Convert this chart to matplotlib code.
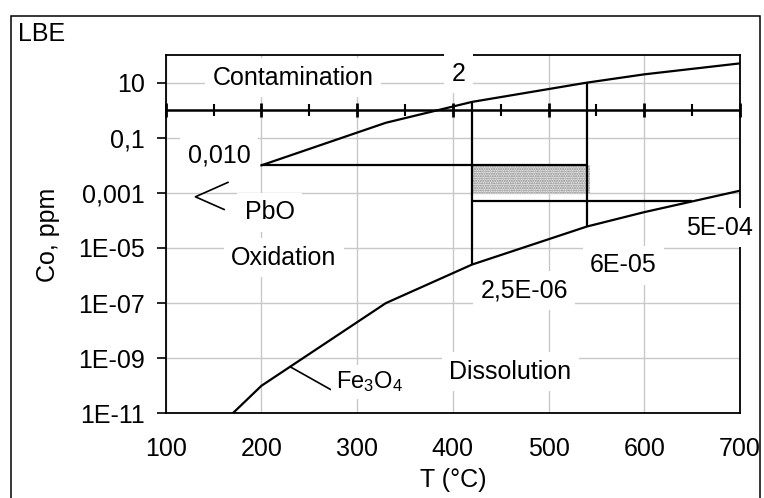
import numpy as np
import matplotlib.pyplot as plt
from matplotlib.patches import Rectangle
from matplotlib.ticker import NullLocator, FixedLocator, FixedFormatter

plt.rcParams['font.family'] = ['Liberation Sans', 'DejaVu Sans']
plt.rcParams['mathtext.fontset'] = 'custom'
plt.rcParams['mathtext.rm'] = 'Liberation Sans'
plt.rcParams['mathtext.it'] = 'Liberation Sans:italic'
plt.rcParams['hatch.linewidth'] = 1.0

# upper boundary (PbO formation)
pbo_t = [200, 330, 420, 540, 600, 700]
pbo_c = [1e-2, 0.35, 2.0, 10.0, 20.0, 50.0]

# lower boundary (Fe3O4 stability)
fe_t = [170, 200, 330, 420, 540, 600, 700]
fe_c = [1e-11, 1e-10, 1e-7, 2.5e-6, 6e-5, 2e-4, 1.2e-3]

# vertical limits at 420 and 540 °C
vert_t = [420, 540]
vert_top = [2.0, 10.0]
vert_bot = [2.5e-6, 6e-5]

# horizontal levels
hi_t = [200, 540]
hi_c = 1e-2
lo_t = [420, 650]
lo_c = 5e-4

# shaded operating window
box_t = [420, 543]
box_lo = 1e-3
box_hi = 1e-2

# label pointers
pbo_ptr_t = [165, 131, 161]
pbo_ptr_c = [2.4e-3, 7.2e-4, 2.5e-4]
fe_ptr_t = [230, 272]
fe_ptr_c = [4.9e-10, 7.4e-11]

x_ticks = [100, 200, 300, 400, 500, 600, 700]
x_minor = [150, 250, 350, 450, 550, 650]
y_ticks = [1e-11, 1e-9, 1e-7, 1e-5, 1e-3, 1e-1, 10]
y_labels = ['1E-11', '1E-09', '1E-07', '1E-05', '0,001', '0,1', '10']

# (text, T, Co)
labels = [
    ('Contamination', 233, 14.8),
    ('2', 405.7, 20.8),
    ('0,010', 155.7, 0.023),
    ('PbO', 208.5, 1.95e-4),
    ('Oxidation', 223.6, 4.4e-6),
    ('Dissolution', 459.8, 3.2e-10),
    ('2,5E-06', 474.4, 2.8e-7),
    ('6E-05', 578.4, 2.4e-6),
    ('5E-04', 678.8, 5.5e-5),
]

fig = plt.figure(figsize=(7.64, 4.98), dpi=100)
ax = fig.add_axes([0.2169, 0.170, 0.7517, 0.7194])
ax.set_yscale('log')
ax.set_xlim(100, 700)
ax.set_ylim(1e-11, 100)

ax.yaxis.set_major_locator(FixedLocator(y_ticks))
ax.yaxis.set_major_formatter(FixedFormatter(y_labels))
ax.yaxis.set_minor_locator(NullLocator())
ax.set_xticks(x_ticks)
ax.tick_params(axis='y', labelsize=18, length=6.5, width=1.2, pad=8.4, direction='out')
ax.tick_params(axis='x', labelsize=18, length=0, pad=17)
ax.grid(True, color='#c8c8c8', lw=1.0, zorder=0)
ax.set_axisbelow(True)
for s in ax.spines.values():
    s.set_linewidth(1.3)

box = ax.fill_between(box_t, box_lo, box_hi, facecolor='#e4e4e4', edgecolor='#8a8a8a',
                      hatch='.......', linewidth=0, zorder=1)

lw = 1.6
ax.plot(pbo_t, pbo_c, color='black', lw=lw, zorder=3)
ax.plot(fe_t, fe_c, color='black', lw=lw, zorder=3)
ax.vlines(vert_t, vert_bot, vert_top, color='black', lw=lw, zorder=3)
ax.hlines(hi_c, hi_t[0], hi_t[1], color='black', lw=lw, zorder=3)
ax.hlines(lo_c, lo_t[0], lo_t[1], color='black', lw=lw, zorder=3)
ax.plot(pbo_ptr_t, pbo_ptr_c, color='black', lw=1.2, zorder=3)
ax.plot(fe_ptr_t, fe_ptr_c, color='black', lw=1.2, zorder=3)

# category axis crossing at 1 ppm
ax.axhline(1, color='black', lw=1.8, zorder=3)
ax.plot(x_ticks, [1] * len(x_ticks), ls='none', marker='|', ms=10, mew=2,
        color='black', clip_on=False, zorder=3)
ax.plot(x_minor, [1] * len(x_minor), ls='none', marker='|', ms=8, mew=1.5,
        color='black', clip_on=False, zorder=3)

for txt, t, c in labels:
    ax.text(t, c, txt, fontsize=18, ha='center', va='center', zorder=6,
            bbox=dict(boxstyle='square,pad=0.3', fc='white', ec='none'))

ax.text(278, 1.4e-10, r'$\mathregular{Fe_3O_4}$', fontsize=17, ha='left', va='center',
        zorder=6, bbox=dict(boxstyle='square,pad=0.2', fc='white', ec='none'))

fig.text(48 / 764, 1 - 235 / 498, 'Co, ppm', rotation=90, fontsize=18,
         ha='center', va='center')
fig.text(453 / 764, 1 - 480 / 498, 'T (°C)', fontsize=18, ha='center', va='center')
fig.text(18 / 764, 1 - 34 / 498, 'LBE', fontsize=18, ha='left', va='center')

fig.add_artist(Rectangle((11 / 764, -0.1), 749 / 764, 1.1 - 16 / 498,
                         transform=fig.transFigure, fill=False, ec='black', lw=1.1))

fig.savefig('out.png', dpi=100)
